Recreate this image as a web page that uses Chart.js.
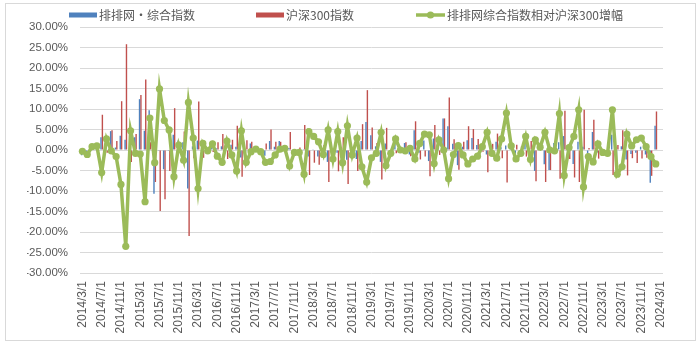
<!DOCTYPE html>
<html><head><meta charset="utf-8">
<script src="https://cdn.jsdelivr.net/npm/chart.js@4.4.1/dist/chart.umd.min.js"></script>
<style>html,body{margin:0;padding:0;background:#fff;}canvas{display:block;}</style>
</head><body>
<canvas id="c" width="700" height="356"></canvas>
<script>
const categories = [
'2014/3/1','2014/4/1','2014/5/1','2014/6/1','2014/7/1','2014/8/1','2014/9/1','2014/10/1','2014/11/1','2014/12/1',
'2015/1/1','2015/2/1','2015/3/1','2015/4/1','2015/5/1','2015/6/1','2015/7/1','2015/8/1','2015/9/1','2015/10/1','2015/11/1','2015/12/1',
'2016/1/1','2016/2/1','2016/3/1','2016/4/1','2016/5/1','2016/6/1','2016/7/1','2016/8/1','2016/9/1','2016/10/1','2016/11/1','2016/12/1',
'2017/1/1','2017/2/1','2017/3/1','2017/4/1','2017/5/1','2017/6/1','2017/7/1','2017/8/1','2017/9/1','2017/10/1','2017/11/1','2017/12/1',
'2018/1/1','2018/2/1','2018/3/1','2018/4/1','2018/5/1','2018/6/1','2018/7/1','2018/8/1','2018/9/1','2018/10/1','2018/11/1','2018/12/1',
'2019/1/1','2019/2/1','2019/3/1','2019/4/1','2019/5/1','2019/6/1','2019/7/1','2019/8/1','2019/9/1','2019/10/1','2019/11/1','2019/12/1',
'2020/1/1','2020/2/1','2020/3/1','2020/4/1','2020/5/1','2020/6/1','2020/7/1','2020/8/1','2020/9/1','2020/10/1','2020/11/1','2020/12/1',
'2021/1/1','2021/2/1','2021/3/1','2021/4/1','2021/5/1','2021/6/1','2021/7/1','2021/8/1','2021/9/1','2021/10/1','2021/11/1','2021/12/1',
'2022/1/1','2022/2/1','2022/3/1','2022/4/1','2022/5/1','2022/6/1','2022/7/1','2022/8/1','2022/9/1','2022/10/1','2022/11/1','2022/12/1',
'2023/1/1','2023/2/1','2023/3/1','2023/4/1','2023/5/1','2023/6/1','2023/7/1','2023/8/1','2023/9/1','2023/10/1','2023/11/1','2023/12/1',
'2024/1/1','2024/2/1','2024/3/1'
];
const tickEvery = 4;

const seriesNames = ['排排网•综合指数', '沪深300指数', '排排网综合指数相对沪深300增幅'];

// 排排网•综合指数 monthly return (%)
const indexReturns = [
-1.3,-1.0,1.1,1.4,3.1,2.0,4.6,0.6,3.5,2.5,
1.8,3.1,12.4,4.7,9.7,-10.7,-0.2,-4.7,-0.2,3.7,
2.3,1.9,-9.4,0.9,2.3,-0.3,0.2,1.0,0.4,0.9,
0.0,1.3,0.8,-1.8,-0.6,1.6,0.1,-1.1,-1.4,2.2,
0.8,2.2,0.8,0.5,-0.5,0.0,0.2,-1.6,0.2,-1.6,
0.1,-2.9,-2.0,-0.7,0.0,-2.4,-0.6,-2.2,2.2,6.8,
3.6,0.9,-2.9,1.6,-0.5,1.9,0.4,1.7,-1.1,4.8,
-0.7,2.3,-2.7,2.8,1.3,7.7,5.8,1.5,-3.7,0.8,
2.4,2.9,1.2,0.4,-1.1,0.7,2.0,0.7,1.1,0.9,
-0.9,0.1,1.7,-0.1,-5.1,1.1,-3.5,-4.9,1.7,1.9,
3.4,-1.6,-3.4,2.0,0.8,-1.1,4.4,-0.6,-1.1,-1.3,
3.7,-4.7,0.9,-2.3,-1.0,-0.7,0.8,-1.1,-8.0,5.9,null
];

// 沪深300指数 monthly return (%)
const csi300Returns = [
-1.0,0.1,0.3,0.4,8.6,-0.7,4.8,2.2,11.9,25.8,
-2.9,3.9,13.4,17.2,1.9,-7.8,-14.9,-12.0,-5.1,10.2,
1.1,4.5,-21.0,-2.0,11.8,-1.9,0.4,-0.5,1.9,3.9,
-2.2,2.5,5.9,-6.5,2.4,2.0,-0.1,-0.7,1.6,5.0,
2.0,2.0,0.4,4.4,0.1,0.6,6.1,-6.1,-3.1,-3.6,
1.2,-7.8,0.2,-5.2,3.1,-8.3,0.6,-5.1,6.3,14.6,
5.5,1.7,-7.2,5.4,0.3,-0.8,0.4,1.9,-1.5,7.0,
-2.3,-1.6,-6.4,6.1,-1.2,7.7,12.8,2.6,-4.8,2.0,
5.8,5.1,2.7,-0.4,-5.4,1.5,4.0,-2.0,-7.9,-0.1,
1.3,0.9,-1.6,2.2,-7.6,0.4,-7.8,-4.9,1.9,-7.0,
9.6,-2.2,-6.7,-7.8,9.8,0.5,7.4,-2.1,-0.5,-0.5,
-6.1,1.2,4.8,-6.2,-2.0,-3.2,-2.1,-1.9,-6.3,9.4,null
];

// 排排网综合指数相对沪深300增幅 (%)
const relativeReturns = [
-0.3,-1.1,0.8,1.0,-5.5,2.7,-0.2,-1.6,-8.4,-23.5,
4.7,-0.8,-1.0,-12.6,7.8,-3.1,14.9,7.2,4.9,-6.5,
1.2,-2.5,11.6,2.9,-9.4,1.6,-0.2,1.5,-1.5,-3.0,
2.2,-1.2,-5.1,4.7,-3.0,-0.4,0.2,-0.4,-3.0,-2.8,
-1.2,0.2,0.4,-3.9,-0.6,-0.6,-5.9,4.5,3.3,2.0,
-1.1,4.9,-2.2,4.5,-3.1,5.9,-1.2,2.9,-4.1,-7.8,
-1.9,-0.8,4.3,-3.8,-0.8,2.7,0.0,-0.2,0.4,-2.2,
1.6,3.9,3.7,-3.3,2.5,0.0,-7.0,-1.1,1.1,-1.2,
-3.4,-2.2,-1.5,0.8,4.3,-0.8,-2.0,2.7,9.0,1.0,
-2.2,-0.8,3.3,-2.3,2.5,0.7,4.3,0.0,-0.2,8.9,
-6.2,0.6,3.3,9.8,-9.0,-1.6,-2.9,1.5,-0.6,-0.8,
9.8,-5.9,-4.1,3.9,1.0,2.5,2.9,0.8,-1.6,-3.4,null
];

const yMin = -30, yMax = 30, yStep = 5;

const BLUE = '#4F81BD', RED = '#C0504D', GREEN = '#9BBB59';
const TEXT = '#595959', GRID = '#d9d9d9';
const CJK = '"Noto Sans CJK SC", "Liberation Sans", sans-serif';

const framePlugin = {
  id: 'frame',
  beforeDraw(chart) {
    const c = chart.ctx;
    c.save();
    c.fillStyle = '#fff';
    c.fillRect(0, 0, chart.width, chart.height);
    c.restore();
  },
  afterDraw(chart) {
    const c = chart.ctx;
    c.save();
    c.strokeStyle = GRID;
    c.lineWidth = 1;
    c.strokeRect(5.5, 3.5, 690, 337);
    // legend
    const starts = [69, 256, 416];
    const yc = 15;
    c.font = '12px ' + CJK;
    c.textBaseline = 'middle';
    c.fillStyle = TEXT;
    chart.data.datasets.forEach((ds, i) => {
      const x = starts[i];
      if (ds.type === 'line') {
        c.strokeStyle = ds.borderColor;
        c.lineWidth = 3.5;
        c.beginPath(); c.moveTo(x, yc); c.lineTo(x + 29, yc); c.stroke();
        c.fillStyle = ds.borderColor;
        c.beginPath(); c.arc(x + 14.5, yc, 3.6, 0, Math.PI * 2); c.fill();
        c.fillStyle = TEXT;
        c.fillText(ds.label, x + 31, yc + 0.5);
      } else {
        c.fillStyle = ds.backgroundColor;
        c.fillRect(x, yc - 2.5, 28, 5);
        c.fillStyle = TEXT;
        c.fillText(ds.label, x + 30, yc + 0.5);
      }
    });
    c.restore();
  }
};

new Chart(document.getElementById('c'), {
  type: 'bar',
  data: {
    labels: categories,
    datasets: [
      { type: 'bar', label: seriesNames[0], data: indexReturns, backgroundColor: BLUE,
        categoryPercentage: 0.58, barPercentage: 1.0, order: 1 },
      { type: 'bar', label: seriesNames[1], data: csi300Returns, backgroundColor: RED,
        categoryPercentage: 0.58, barPercentage: 1.0, order: 1 },
      { type: 'line', label: seriesNames[2], data: relativeReturns, borderColor: GREEN,
        backgroundColor: GREEN, borderWidth: 3.5, pointRadius: 3.6, pointBorderWidth: 0,
        pointBackgroundColor: GREEN, tension: 0, order: 0 }
    ]
  },
  options: {
    responsive: false,
    devicePixelRatio: 1,
    animation: false,
    layout: { padding: { left: 27, right: 37, top: 27, bottom: 16 } },
    plugins: { legend: { display: false }, tooltip: { enabled: false } },
    scales: {
      x: {
        offset: true,
        grid: { display: false, drawTicks: false },
        border: { display: false },
        ticks: {
          autoSkip: false, minRotation: 90, maxRotation: 90, padding: 8, color: TEXT,
          font: { family: '"Liberation Sans", sans-serif', size: 12 },
          callback: (v, i) => (i % tickEvery === 0 ? categories[i] : '')
        },
        afterFit(a) { a.height = 67; }
      },
      y: {
        min: yMin, max: yMax,
        grid: { color: GRID, lineWidth: 1, drawTicks: false },
        border: { display: false },
        ticks: {
          stepSize: yStep, padding: 12, color: TEXT,
          font: { family: '"Liberation Sans", sans-serif', size: 11.5 },
          callback: v => v.toFixed(2) + '%'
        },
        afterFit(a) { a.width = 53; }
      }
    }
  },
  plugins: [framePlugin]
});
</script>
</body></html>
